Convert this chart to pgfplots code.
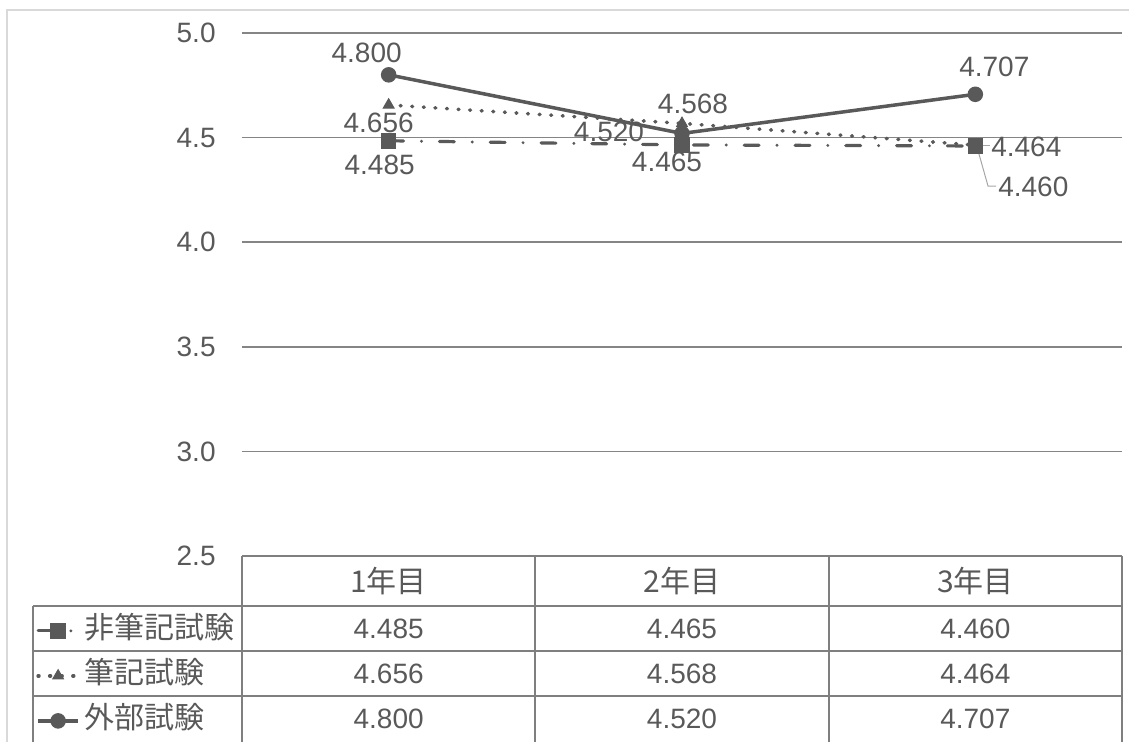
\documentclass[border=0pt]{standalone}
\usepackage{fontspec}
\setmainfont{Liberation Sans}
\newfontfamily\cjk{Noto Sans CJK JP}
\usepackage{pgfplots}
\usepackage{pgfplotstable}
\pgfplotsset{compat=1.18}
\definecolor{txt}{HTML}{595959}
\definecolor{ln}{HTML}{595959}
\definecolor{gridc}{HTML}{858585}
\definecolor{tbl}{HTML}{7F7F7F}
\definecolor{framec}{HTML}{D9D9D9}
\definecolor{leader}{HTML}{A6A6A6}

% 非筆記試験
\pgfplotstableread{
x y dx dy
0 4.485 -4.5 -12
1 4.465 -7.5 -8.5
2 4.460 29 -20.5
}\hikkiNon
% 筆記試験
\pgfplotstableread{
x y dx dy
0 4.656 -5 -9
1 4.568 5.5 10
2 4.464 25.5 -1
}\hikki
% 外部試験
\pgfplotstableread{
x y dx dy
0 4.800 -11 11
1 4.520 -36.5 1
2 4.707 9.5 13.5
}\gaibu

\newcommand{\numfont}{\fontsize{14}{16.8}\selectfont}
\newcommand{\jfont}{\cjk\fontsize{15}{18}\selectfont}

\pgfplotsset{
  datalabels/.style={
    nodes near coords={\pgfmathprintnumber[fixed,fixed zerofill,precision=3]{\pgfplotspointmeta}},
    point meta=explicit,
    visualization depends on={\thisrow{dx}\as\dx},
    visualization depends on={\thisrow{dy}\as\dy},
    every node near coord/.append style={anchor=center, inner sep=0pt, font=\numfont, text=txt, xshift=\dx pt, yshift=\dy pt},
  },
  tablerow/.style={
    forget plot, draw=none, mark=none,
    nodes near coords={\pgfmathprintnumber[fixed,fixed zerofill,precision=3]{\pgfplotspointmeta}},
    point meta=explicit,
    every node near coord/.append style={anchor=center, inner sep=0pt, font=\numfont, text=txt},
  },
}

\begin{document}
\begin{tikzpicture}
\begin{scope}[x=0.5pt,y=0.5pt,shift={(-121pt,-93pt)}]
\useasboundingbox (0,0) rectangle (1129,742);
\draw[framec, line width=0.75pt] (7,0) -- (7,732) -- (1129,732);
\end{scope}
\begin{axis}[
  at={(0pt,0pt)}, anchor=south west,
  scale only axis, width=440pt, height=261.5pt,
  xmin=-0.5, xmax=2.5, ymin=2.5, ymax=5.0,
  ytick={2.5,3.0,3.5,4.0,4.5,5.0},
  /pgf/number format/assume math mode=true,
  yticklabel style={/pgf/number format/fixed, /pgf/number format/fixed zerofill, /pgf/number format/precision=1},
  yticklabel style={font=\numfont, text=txt, inner sep=0pt, anchor=east, xshift=-13pt},
  xtick=\empty,
  ymajorgrids, grid style={gridc, line width=0.75pt},
  axis line style={draw=none}, major tick length=0pt,
  clip=false,
  legend style={at={(-0.241,-0.108)}, anchor=north west, draw=none, fill=none,
    font=\jfont, text=txt, row sep=8.5pt,
    nodes={inner sep=0pt, text height=11pt, text depth=3pt},
    /tikz/every odd column/.append style={column sep=2.5pt}},
  legend cell align=left,
  legend image code/.code={\draw[mark repeat=2,mark phase=2,#1] plot coordinates {(0pt,0pt) (10pt,0pt) (20pt,0pt)};},
]
% 非筆記試験
\addplot[ln, line width=1.6pt, line cap=round, dash pattern=on 7.4pt off 9pt on 0pt off 9pt,
  mark=square*, mark size=3.1pt, mark options={solid, fill=ln}, datalabels]
  table[x=x, y=y, meta=y]{\hikkiNon};
\addlegendentry{非筆記試験}
% 筆記試験
\addplot[ln, line width=1.8pt, line cap=round, dash pattern=on 0.4pt off 5.4pt,
  mark=triangle*, mark size=3.1pt, mark options={solid, fill=ln, line width=0.5pt}, datalabels]
  table[x=x, y=y, meta=y]{\hikki};
\addlegendentry{筆記試験}
% 外部試験
\addplot[ln, line width=1.75pt, mark=*, mark size=3pt, mark options={solid, fill=ln}, datalabels]
  table[x=x, y=y, meta=y]{\gaibu};
\addlegendentry{外部試験}

% leader lines
\draw[leader, line width=0.5pt] (axis cs:2.0057,4.455) -- (axis cs:2.0432,4.2686) -- (axis cs:2.0705,4.2686);
\draw[leader, line width=0.5pt] (axis cs:2.0262,4.4646) -- (axis cs:2.05,4.4646);

% data table
\node[font=\jfont, text=txt] at (axis cs:0,2.3805) {1年目};
\node[font=\jfont, text=txt] at (axis cs:1,2.3805) {2年目};
\node[font=\jfont, text=txt] at (axis cs:2,2.3805) {3年目};
\addplot[tablerow] table[x=x, y expr=2.1534, meta=y]{\hikkiNon};
\addplot[tablerow] table[x=x, y expr=1.9383, meta=y]{\hikki};
\addplot[tablerow] table[x=x, y expr=1.7232, meta=y]{\gaibu};
\end{axis}
% table borders (pixel grid of the reference)
\begin{scope}[x=0.5pt,y=0.5pt,shift={(-121pt,-93pt)}, tbl, line width=0.75pt]
\draw (242,186) -- (1122,186);
\draw (33,136) -- (1122,136);
\draw (33,91) -- (1122,91);
\draw (33,46) -- (1122,46);
\draw (242,186) -- (242,0);
\draw (535,186) -- (535,0);
\draw (829,186) -- (829,0);
\draw (1122,186) -- (1122,0);
\draw (33,136) -- (33,0);
\end{scope}
\end{tikzpicture}
\end{document}
